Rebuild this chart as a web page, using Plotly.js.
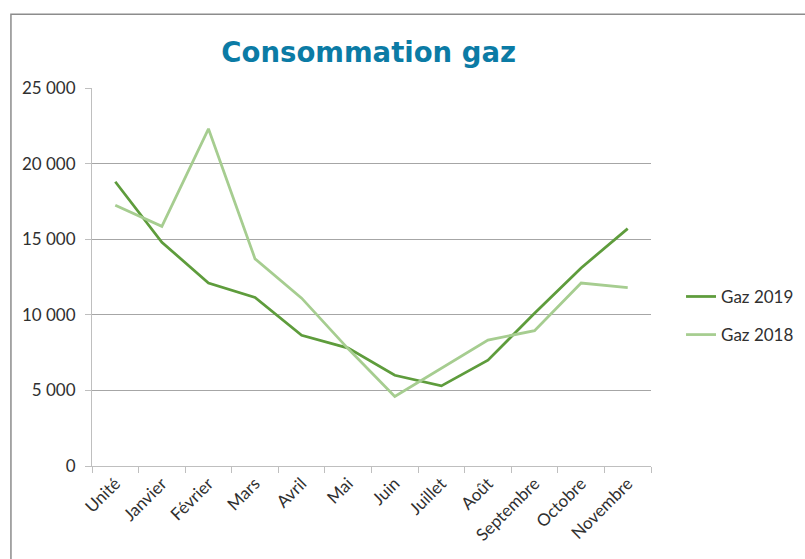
<!DOCTYPE html>
<html>
<head>
<meta charset="utf-8">
<script src="https://cdn.plot.ly/plotly-3.0.1.min.js"></script>
<style>html,body{margin:0;padding:0;background:#fff;}#chart{width:805px;height:559px;}</style>
</head>
<body>
<div id="chart"></div>
<script>
const months = ["Unité","Janvier","Février","Mars","Avril","Mai","Juin","Juillet","Août","Septembre","Octobre","Novembre"];
const gaz2019 = [18800, 14800, 12100, 11150, 8650, 7800, 6000, 5300, 7000, 10100, 13100, 15700];
const gaz2018 = [17250, 15850, 22300, 13700, 11100, 7750, 4600, 6450, 8330, 8950, 12100, 11800];
const yTicks = [0, 5000, 10000, 15000, 20000, 25000];

const traces = [
  {x: months, y: gaz2019, name: "Gaz 2019", legendgroup: "a", type: "scatter", mode: "lines",
   line: {color: "#5e9c3c", width: 2.75}},
  {x: months, y: gaz2018, name: "Gaz 2018", legendgroup: "b", type: "scatter", mode: "lines",
   line: {color: "#a6cd90", width: 2.75}}
];

const layout = {
  width: 805, height: 559,
  margin: {l: 92, r: 154, t: 88, b: 93, autoexpand: false},
  paper_bgcolor: "#fff", plot_bgcolor: "#fff",
  separators: ", ",
  font: {family: "Lato, 'Open Sans', sans-serif", size: 17, color: "#404040"},
  title: {text: "<b>Consommation gaz</b>", x: 0.458, xanchor: "center", y: 0.907, yanchor: "middle",
          font: {family: "'DejaVu Sans', sans-serif", size: 27.5, color: "#0b7ba5"}},
  xaxis: {type: "category", range: [-0.5, 11.5], tickangle: -45, showgrid: false, showline: true,
          linecolor: "#bfbfbf", linewidth: 1, automargin: false,
          ticks: "outside", tickson: "boundaries", ticklen: 6, tickcolor: "#bfbfbf",
          tickfont: {size: 17, color: "#303030"}, fixedrange: true},
  yaxis: {range: [0, 25000], tickvals: yTicks, tickformat: ",d", showgrid: true, gridcolor: "#a6a6a6", gridwidth: 1,
          showline: true, linecolor: "#bfbfbf", ticks: "outside", ticklen: 6, tickcolor: "#bfbfbf",
          ticklabelstandoff: 6, automargin: false,
          zeroline: false, tickfont: {size: 17, color: "#303030"}, fixedrange: true},
  legend: {xref: "container", x: 0.846, xanchor: "left", y: 0.397, yanchor: "middle",
           font: {size: 17, color: "#303030"}, tracegroupgap: 13},
  showlegend: true,
  shapes: [{type: "rect", xref: "paper", yref: "paper", x0: -0.145, x1: 1.4, y0: -0.5, y1: 1.195,
            line: {color: "#8c8c8c", width: 1.5}, fillcolor: "rgba(0,0,0,0)", layer: "below"}]
};

Plotly.newPlot("chart", traces, layout, {displayModeBar: false, staticPlot: true});
</script>
</body>
</html>
